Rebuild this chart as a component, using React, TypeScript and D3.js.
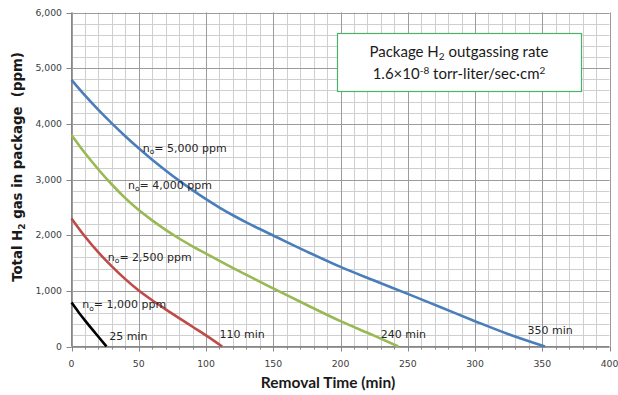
import React from 'react';
import * as d3 from 'd3';

// Removal time (min) vs total H2 in package (ppm)
const n5000Time = [0, 10, 20, 30, 40, 50, 60, 70, 80, 90, 100, 110, 120, 130, 140, 150, 175, 200, 225, 250, 275, 300, 325, 352];
const n5000Ppm = [4790, 4510, 4250, 4007, 3777, 3560, 3355, 3163, 2980, 2808, 2646, 2496, 2358, 2230, 2110, 1994, 1705, 1430, 1185, 945, 700, 455, 220, 0];

const n4000Time = [0, 10, 20, 30, 40, 50, 60, 70, 80, 90, 100, 125, 150, 175, 200, 225, 243];
const n4000Ppm = [3800, 3475, 3180, 2910, 2665, 2450, 2265, 2095, 1940, 1800, 1670, 1348, 1045, 745, 455, 195, 0];

const n2500Time = [0, 10, 20, 30, 40, 50, 60, 70, 80, 90, 100, 112];
const n2500Ppm = [2300, 1975, 1690, 1440, 1210, 1005, 830, 668, 510, 355, 200, 0];

const n1000Time = [0, 5, 10, 15, 20, 26];
const n1000Ppm = [790, 625, 470, 320, 175, 0];

const seriesNames = ['5,000', '4,000', '2,500', '1,000'];
const seriesColors = ['#4a7ebb', '#98b954', '#be4b48', '#000000'];
const endLabels = ['350 min', '240 min', '110 min', '25 min'];

const xTicks = [0, 50, 100, 150, 200, 250, 300, 350, 400];
const yTicks = [0, 1000, 2000, 3000, 4000, 5000, 6000];

const W = 618;
const H = 395;

const App: React.FC = () => {
  const x = d3.scaleLinear().domain([0, 400]).range([71.5, 609.5]);
  const y = d3.scaleLinear().domain([0, 6000]).range([346.5, 12.5]);

  const series = [
    {time: n5000Time, ppm: n5000Ppm},
    {time: n4000Time, ppm: n4000Ppm},
    {time: n2500Time, ppm: n2500Ppm},
    {time: n1000Time, ppm: n1000Ppm},
  ];

  const line = d3
    .line<[number, number]>()
    .x((d) => x(d[0]))
    .y((d) => y(d[1]))
    .curve(d3.curveMonotoneX);

  const minorX = d3.range(0, 401, 10);
  const minorY = d3.range(0, 6001, 200);
  const px = (v: number) => Math.round(v) + 0.5;

  // label anchors in data units (time, ppm)
  const nameAt: [number, number][] = [
    [53, 3500],
    [42, 2830],
    [27, 1540],
    [8, 690],
  ];
  const endAt: [number, number][] = [
    [339, 225],
    [230, 155],
    [110, 155],
    [28, 125],
  ];

  const labelFont = "'DejaVu Sans', Verdana, sans-serif";

  return (
    <svg
      width={W}
      height={H}
      style={{position: 'absolute', left: 0, top: 0, background: '#fff'}}
    >
      <rect width={W} height={H} fill='#fff' />
      {/* minor grid */}
      <g stroke='#cfcfcf' strokeWidth={1}>
        {minorX.map((t) => (
          <line key={'mx' + t} x1={px(x(t))} x2={px(x(t))} y1={y(6000)} y2={y(0)} />
        ))}
        {minorY.map((v) => (
          <line key={'my' + v} x1={x(0)} x2={x(400)} y1={px(y(v))} y2={px(y(v))} />
        ))}
      </g>
      {/* major grid */}
      <g stroke='#9c9c9c' strokeWidth={1}>
        {xTicks.map((t) => (
          <line key={'gx' + t} x1={px(x(t))} x2={px(x(t))} y1={y(6000)} y2={y(0)} />
        ))}
        {yTicks.map((v) => (
          <line key={'gy' + v} x1={x(0)} x2={x(400)} y1={px(y(v))} y2={px(y(v))} />
        ))}
      </g>
      {/* axes */}
      <g stroke='#868686' strokeWidth={1}>
        <line x1={x(0)} x2={x(0)} y1={y(6000)} y2={y(0)} />
        <line x1={x(0)} x2={x(400)} y1={y(0)} y2={y(0)} />
        {yTicks.map((v) => (
          <line key={'ty' + v} x1={x(0) - 5} x2={x(0)} y1={px(y(v))} y2={px(y(v))} />
        ))}
        {minorX.map((t) => (
          <line key={'tx' + t} x1={px(x(t))} x2={px(x(t))} y1={y(0)} y2={y(0) + (t % 50 === 0 ? 5 : 3)} />
        ))}
      </g>
      {/* tick labels */}
      <g fontFamily={labelFont} fontSize={9.3} fill='#404040'>
        {yTicks.map((v) => (
          <text key={'ly' + v} x={62} y={y(v)} dy='0.35em' textAnchor='end'>
            {d3.format(',')(v)}
          </text>
        ))}
        {xTicks.map((t) => (
          <text key={'lx' + t} x={x(t)} y={367} textAnchor='middle'>
            {t}
          </text>
        ))}
      </g>
      {/* curves */}
      {series.map((s, i) => (
        <path
          key={'s' + i}
          d={line(s.time.map((t, j) => [t, s.ppm[j]] as [number, number])) || ''}
          fill='none'
          stroke={seriesColors[i]}
          strokeWidth={2.6}
        />
      ))}
      {/* curve labels */}
      <g fontFamily={labelFont} fontSize={11} fill='#262626'>
        {seriesNames.map((n, i) => (
          <text key={'n' + i} x={x(nameAt[i][0])} y={y(nameAt[i][1])}>
            n
            <tspan fontSize={7.5} dy={2.5}>o</tspan>
            <tspan dy={-2.5}>= {n} ppm</tspan>
          </text>
        ))}
        {endLabels.map((l, i) => (
          <text key={'e' + i} x={x(endAt[i][0])} y={y(endAt[i][1])}>
            {l}
          </text>
        ))}
      </g>
      {/* annotation box */}
      <rect x={337.5} y={33.5} width={244} height={58} fill='#fff' stroke='#4bb26b' strokeWidth={1.2} />
      <g fontFamily="Lato, 'Open Sans', sans-serif" fontSize={15} fill='#1a1a1a' textAnchor='middle'>
        <text x={459} y={57}>
          Package H<tspan fontSize={10} dy={3}>2</tspan>
          <tspan dy={-3}> outgassing rate</tspan>
        </text>
        <text x={459} y={79}>
          1.6×10<tspan fontSize={10} dy={-5}>-8</tspan>
          <tspan dy={5}> torr-liter/sec·cm</tspan>
          <tspan fontSize={10} dy={-5}>2</tspan>
        </text>
      </g>
      {/* axis titles */}
      <text
        x={328}
        y={388}
        textAnchor='middle'
        fontFamily="Lato, 'Open Sans', sans-serif"
        fontWeight='bold'
        fontSize={15.5}
        fill='#1a1a1a'
      >
        Removal Time (min)
      </text>
      <text
        transform='translate(22,167) rotate(-90)'
        textAnchor='middle'
        fontFamily="'DejaVu Sans', Verdana, sans-serif"
        fontWeight='bold'
        fontSize={13.3}
        fill='#1a1a1a'
        style={{whiteSpace: 'pre'}}
      >
        Total H<tspan fontSize={9} dy={3}>2</tspan>
        <tspan dy={-3}>{' gas in package  (ppm)'}</tspan>
      </text>
    </svg>
  );
};

export default App;
